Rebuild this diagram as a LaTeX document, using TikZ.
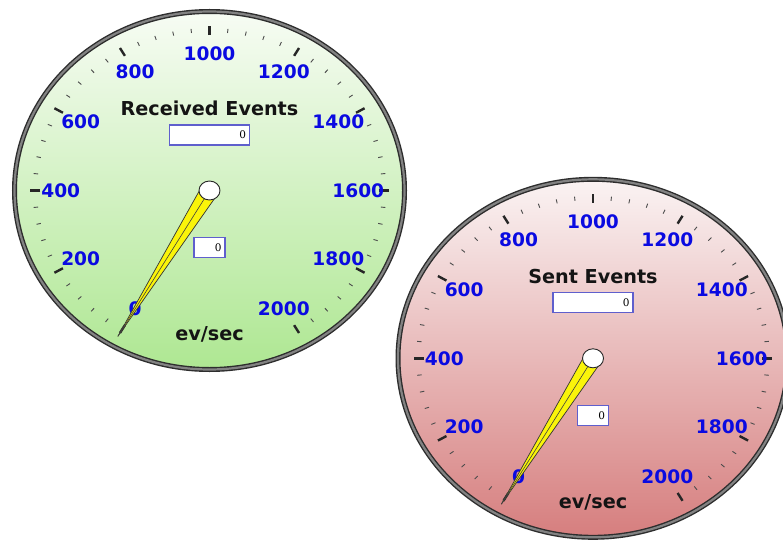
\documentclass[tikz,border=0pt]{standalone}
\usepackage{fontspec}
\newfontfamily\dvsans{DejaVu Sans}
\newfontfamily\dvserif{DejaVu Serif}

\definecolor{scaleblue}{RGB}{10,10,225}
\definecolor{boxedge}{RGB}{95,95,205}
\definecolor{rimdark}{RGB}{45,45,45}
\definecolor{rimgray}{RGB}{130,130,130}
\definecolor{greentop}{RGB}{247,252,244}
\definecolor{greenbot}{RGB}{174,231,146}
\definecolor{redtop}{RGB}{250,243,243}
\definecolor{redbot}{RGB}{214,126,126}
\definecolor{needleyellow}{RGB}{250,244,10}

\tikzset{
  scalenum/.style={font=\dvsans\bfseries\fontsize{18.6}{20}\selectfont,
    text=scaleblue, inner sep=0pt},
  gaugetitle/.style={font=\dvsans\bfseries\fontsize{19.2}{21}\selectfont,
    text=black!92, inner sep=0pt},
  readout/.style={draw=boxedge, line width=1.1pt, fill=white,
    inner xsep=3.5pt, inner ysep=0pt, minimum height=20pt, align=right,
    font=\dvserif\fontsize{10.5}{12}\selectfont},
  majortick/.style={line width=2.4pt, draw=black!85},
  minortick/.style={line width=0.9pt, draw=black!70},
  rimouter/.style={draw=rimdark, line width=5pt},
  riminner/.style={draw=rimgray, line width=2.2pt},
  needlebody/.style={fill=needleyellow, draw=black!80, line width=0.7pt,
    line join=round},
  needleaxis/.style={draw=black!75, line width=0.6pt},
  needlecap/.style={fill=white, draw=black!85, line width=0.9pt},
}

% #1 centre, #2/#3 face colours, #4 title, #5 name prefix
\newcommand\drawgauge[5]{%
  \begin{scope}[shift={#1}, x=197pt, y=181pt]
    % face and rim
    \shade[top color=#2, bottom color=#3]
      (0,0) ellipse [x radius=195pt, y radius=179pt];
    \draw[rimouter] (0,0) ellipse [x radius=195pt, y radius=179pt];
    \draw[riminner] (0,0) ellipse [x radius=195pt, y radius=179pt];
    % scale ticks: 40 units per 6 degrees, major every 200
    \foreach \i in {0,...,50} {
      \pgfmathsetmacro\ang{240-6*\i}
      \pgfmathtruncatemacro\ismajor{mod(\i,5)==0 ? 1 : 0}
      \ifnum\ismajor=1
        \draw[majortick] (\ang:0.859) -- (\ang:0.909);
      \else
        \draw[minortick] (\ang:0.875) -- (\ang:0.898);
      \fi
    }
    % scale numbers
    \foreach \k in {0,...,10} {
      \pgfmathsetmacro\ang{240-30*\k}
      \pgfmathtruncatemacro\val{200*\k}
      \node[scalenum] (#5num\k) at (\ang:0.755) {\val};
    }
    % captions and read-outs
    \node[gaugetitle] (#5title) at (0pt,82pt) {#4};
    \node[gaugetitle] (#5unit) at (0pt,-144pt) {ev/sec};
    \node[readout, text width=73pt] (#5total) at (0pt,55.5pt) {0};
    \node[readout, text width=24pt] (#5rate) at (0pt,-57pt) {0};
    % needle resting at zero
    \coordinate (#5pivot) at (0,0);
    \coordinate (#5tip) at (240:0.93);
    \draw[needlebody] ([shift={(7.4pt,-4.65pt)}]#5pivot) -- (#5tip)
      -- ([shift={(-7.4pt,4.65pt)}]#5pivot) -- cycle;
    \draw[needleaxis] (#5pivot) -- (#5tip);
    \draw[needlecap] (#5pivot) ellipse [x radius=10.5pt, y radius=9.5pt];
  \end{scope}%
}

\begin{document}
\begin{tikzpicture}
  \useasboundingbox (0,0) rectangle (783pt,539pt);
  \clip (0,0) rectangle (783pt,539pt);
  \fill[white] (0,0) rectangle (783pt,539pt);
  \drawgauge{(209.5pt,348.5pt)}{greentop}{greenbot}{Received Events}{recv}
  \drawgauge{(593pt,180.7pt)}{redtop}{redbot}{Sent Events}{sent}
\end{tikzpicture}
\end{document}
